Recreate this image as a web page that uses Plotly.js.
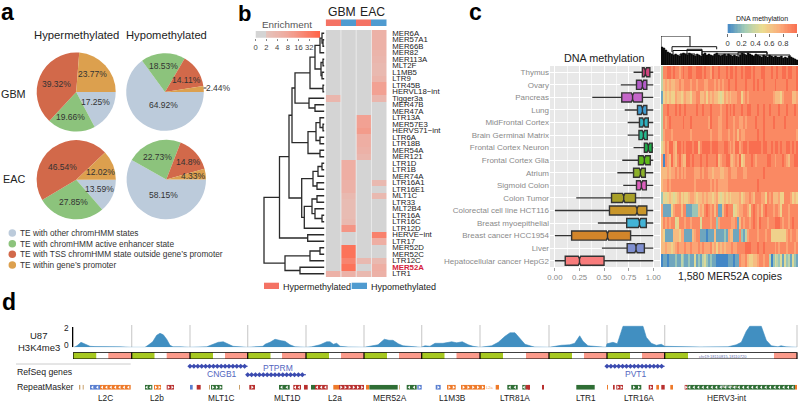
<!DOCTYPE html>
<html><head><meta charset="utf-8">
<script src="https://cdn.plot.ly/plotly-3.0.1.min.js"></script>
<style>html,body{margin:0;padding:0;background:#fff}</style></head>
<body><div id="chart" style="width:798px;height:402px"></div>
<script>
const W=798,H=402,FONT='"Liberation Sans",Arial,sans-serif';
// ---- panel a
const pieStates=['TE with other chromHMM states','TE with chromHMM active enhancer state','TE with TSS chromHMM state outside gene\u2019s promoter','TE within gene\u2019s promoter'];
const gbmHyperPie=[17.25,19.66,39.32,23.77];
const gbmHypoPie=[64.92,18.53,14.11,2.44];
const eacHyperPie=[13.59,27.85,46.54,12.02];
const eacHypoPie=[58.15,22.73,14.8,4.33];
// ---- panel b
const teNames=['MER6A','MER57A1','MER66B','MER82','MER113A','MLT2F','L1MB5','LTR9','LTR45B','HERVL18\u2212int','Tigger3a','MER47B','MER47A','LTR13A','MER57E3','HERVS71\u2212int','LTR6A','LTR18B','MER54A','MER121','LTR1D','LTR1B','MER74A','LTR16A1','LTR16E1','MLT1C','LTR33','MLT2B4','LTR16A','LTR16C','LTR12D','HERVE\u2212int','LTR17','MER52D','MER52C','LTR12C','MER52A','LTR1'];
const gbmHyperEnrich=[0,0,0,0,0,0,0,0,0,0,4,0,0,0,0,0,0,0,0,0,0,0,0,0,0,0,0,0,0,0,0,0,0,0,0,0,0,5];
const gbmHypoEnrich=[0,0,0,0,0,0,0,0,0,0,0,0,0,0,0,0,0,0,0,0,6,6,6,5,5,3.5,3,3,3,3.5,14,0,0,40,40,24,40,5];
const eacHyperEnrich=[0,0,0,0,0,0,0,0,0,0,0,0,0,10,10,12,6,6,5,4,0,0,0,0,0,0,0,0,0,0,0,0,0,0,0,3.5,0,3.5];
const eacHypoEnrich=[5,5,5,4.5,4,3.5,3.5,4.5,10,10,4,0,0,0,0,0,0,0,0,0,0,0,0,3.5,0,3.5,0,0,0,0,0,26,6,0,0,3.5,6,5];
const enrichTicks=['0','2','4','8','16','32'];
// tree: [height, child, child]; a number is a row index
const rowTree=[61,
 [45.5,
  [36,
   [33,
    [30,
     [15,
      [10,
       [5,[3,0,[2,1,2]],3],
       [4,[2,4,5],[3,6,7]]],
      [2,8,9]],
     [16,10,[10,11,12]]],
    [17,[9,[5,13,[2,14,15]],[5,16,17]],[5,18,19]]],
   [23.3,
    [12,[7,[3,20,21],22],[8,23,24]],
    [20.7,[13,[8,25,26],[10,27,[3,28,29]]],30]]],
  [17.3,31,32]],
 [40,
  [15,[5,33,34],35],
  [25,36,37]]];
// ---- panel c, boxes
const tissues=['Thymus','Ovary','Pancreas','Lung','MidFrontal Cortex','Brain Germinal Matrix','Frontal Cortex Neuron','Frontal Cortex Glia','Atrium','Sigmoid Colon','Colon Tumor','Colorectal cell line HCT116','Breast myoepithelial','Breast cancer HCC1954','Liver','Hepatocellular cancer HepG2'];
const boxLow=[.80,.67,.38,.71,.74,.74,.80,.685,.635,.695,.217,0,.437,0,.478,0];
const boxQ1=[.89,.83,.68,.84,.86,.855,.91,.85,.80,.83,.576,.555,.73,.17,.735,.105];
const boxMed=[.92,.89,.79,.89,.905,.90,.95,.91,.87,.88,.70,.835,.86,.535,.825,.25];
const boxQ3=[.966,.935,.89,.935,.95,.94,.99,.97,.92,.93,.82,.935,.93,.77,.91,.50];
const boxHigh=[1,1,1,1,1,1,1,1,1,1,1,1,1,1,1,1];
const boxNotch=[.012,.012,.012,.012,.012,.012,.012,.012,.012,.012,.012,.012,.012,.012,.012,.012];
const boxColors=['#d1477f','#b35cc8','#c566c9','#3f9bd0','#2fb0bf','#27b88e','#1fae4a','#5fb81a','#8cb02a','#dc5fbd','#a8a028','#c9962a','#43b3d6','#d2852a','#7f8fd0','#f87c7c'];
// ---- panel c, methylation rows: one digit (0-9) per copy cluster
const methRows=[
'3889989887 8988998899 9898879889 8889899898 8989998988 8998889889 8899899889',
'3676766778 7788878878 8877888787 8788988898 8889888989 8898888898 8888988889',
'1565655766 5676657788 6675767665 4576767778 8578788888 8888888766 6578888667',
'3889888989 8898888898 8988898888 7889898988 8988998889 8898898888 9888988898',
'3878988888 8988898888 8888798887 7889888788 7787888898 8898888988 8889888888',
'3788878888 8888878888 8888878887 7888788786 8778888889 8898888888 8888888887',
'4687997699 8989998996 8999989998 8899878799 7899899999 9899889899 8988998989',
'7087697689 7669989888 9889888896 7889976787 9568889878 8888998878 8898768899',
'6667677878 7878888777 8788776777 6677887778 8877888888 8898888888 8888888888',
'6778788888 8888888788 8888878787 7777888888 8888888889 8888888888 8888888888',
'2545654567 5655677656 6767665675 4565656666 7567787688 8775878666 7558887565',
'7111157888 6881112226 7689878681 1689888456 7788758987 8689888788 7588878888',
'6878788458 8878878888 4888878827 8888887781 6878878987 9888788899 9878878988',
'6511116665 7711116788 1110111611 1121766111 8213788887 8887885555 5555787887',
'6676656787 7787787778 7877786757 6767778778 8889998889 8898888878 7888788878',
'0110111211 3211211412 1342121100 0000111011 8778655667 8878830243 2414231421'];
const methTicks=['0','0.2','0.4','0.6','0.8','1'];
const colDendroHeights=[18,17,15,13,12,11,10,11,10,9,11,12,11,10,12,11,10,9,11,10,9,11,12,10,11,10,9,11,12,10,9,10,11,9,11,10,9,10,9,8,10,12,11,10,12,11,10,9,11,10,9,8,10,9,8,10,9,8,9,8,8,9,7,8,7,9,8,7,6,5];
// [left, right, join height, left height, right height]
const colDendroLinks=[[661,690,29,5,18.3],[672,716.7,18.3,13,15.7],[673,702,14.5,9,13.3],[702,767,13.3,8,11],[738,767,12.7,8,9],[687,702,15.7,10,10],[716.7,745,11,7,7],[755,790,10,6,5],[680,695,11,7,6],[710,730,9,6,6]];
// ---- panel d
const locusNames=['L2C','L2b','MLT1C','MLT1D','L2a','MER52A','L1M3B','LTR81A','LTR1','LTR16A','HERV3-int'];
const locusEdges=[73,131.7,190,247.7,306,364,421.7,480,549,607,664.7,797];
const locusGreenEnd=[96.5,154.7,213,270.7,329,387,444.7,503,572,630,688];
const locusWhiteEnd=[108.3,166.7,225,282,341,399,456.5,526,584,642,774];
const signalPos=[74,77,81,85,90,95,100,105,110,115,120,131,145,148,152.7,156.7,160,163.3,166.7,170,173,180,190,206.7,213.3,218.3,223.3,228.3,233,247,263,265,270,275,278,281.7,285,290,295,306,311.7,320,326.7,330,333.3,336.7,340,348,364,370,378,384.3,389,393,398.3,403,412,421,425,430,435,443,451.7,456.7,462.3,468.3,473,480,491.7,498.3,505,510,515,520,525,531.7,534.7,549,554.7,561.3,569.7,574.7,579.7,583,588,594.7,606,607,613,617.3,623,643,646.3,651.3,656.3,661.3,664.7,700,715,728,736.3,741.3,746.3,749.7,761.3,766.3,771.3,778,781,786,797];
const signalVal=[0,.15,.5,.3,.1,.07,.07,.1,.07,.07,.05,0,0,.2,.55,1.2,1.4,1.25,.8,.2,.05,.05,0,.05,.3,.5,.55,.35,.1,0,.1,.3,.5,.8,.7,.65,.6,.25,.05,0,.05,.25,.55,.55,.3,.4,.1,.03,0,.1,.25,.8,.7,.7,.35,.15,.05,0,.15,.1,.4,.4,.55,.45,.55,.25,.1,0,.15,.5,1.1,1.45,1.45,.9,.3,.1,.03,0,.1,.2,.25,.4,1.15,.6,.15,.1,0,.35,.5,.35,2.1,2.1,1,.4,.2,.3,.1,.03,.05,.05,.25,.5,1.6,2.1,2.1,.7,.15,.05,.15,.05,0];
const genes=[{name:'CNGB1',from:190,to:247.7,track:0},{name:'PTPRM',from:247.7,to:306,track:1},{name:'PVT1',from:607,to:664.7,track:0}];
// repeat elements: start, end, family class, strand
const rmStart=[79,82.7,90,100,145,154,166.7,190,196.7,209,211,239,249.3,279,293.3,304,311,315,333.3,339,366,369.3,399,406.7,417.3,435.7,447,461,495.7,507.3,522.3,525.7,528,542,576.3,607,613,616.3,631.3,648.7,656.3,661.3,670.3,684.7,687.3,795];
const rmEnd=[80.3,83.7,100,130.7,152.3,161,174,192.7,200.7,210,222.3,240,255,289.7,301,307.7,315,327.7,339,364,369,397.7,399.8,416.7,421.7,440.7,455.7,485,499,517.7,525.7,530,529.7,544,594.7,608,614.7,623,641.3,653,659,664.7,673,687.3,795,797];
const rmClass=['t','t','b','o','g','o','r','b','r','t','g','t','r','g','r','r','g','r','o','r','o','g','t','g','b','b','o','o','o','g','g','r','r','r','g','o','r','r','g','r','o','r','o','r','g','o'];
const rmStrand=[0,0,-1,-1,-1,1,1,0,0,0,1,0,1,-1,-1,0,0,-1,0,1,0,0,0,-1,1,1,1,1,0,-1,-1,0,0,0,0,0,0,1,1,1,0,0,0,1,-1,0];

// ---- helpers
const px=x=>x/W, py=y=>1-y/H;
const data=[], layout={width:W,height:H,margin:{l:0,r:0,t:0,b:0},autosize:false,paper_bgcolor:'#fff',plot_bgcolor:'rgba(0,0,0,0)',showlegend:false,hovermode:false,font:{family:FONT,color:'#222',size:9},annotations:[],shapes:[],boxmode:'overlay'};
let axN=0;
const blank={showgrid:false,zeroline:false,showticklabels:false,ticks:'',showline:false,fixedrange:true};
function axes(x0,x1,y0,y1,xo,yo){axN++;const s=axN===1?'':axN;
 layout['xaxis'+s]=Object.assign({},blank,{domain:[px(x0),px(x1)],anchor:'y'+s},xo);
 layout['yaxis'+s]=Object.assign({},blank,{domain:[py(y1),py(y0)],anchor:'x'+s},yo);
 return {xaxis:'x'+s,yaxis:'y'+s};}
function note(text,x,y,size,o){layout.annotations.push(Object.assign({text,x:px(x),y:py(y),xref:'paper',yref:'paper',showarrow:false,xanchor:'center',yanchor:'middle',borderpad:0,font:{size,family:FONT,color:'#222'}},o||{}));}
function rect(x0,y0,x1,y1,fill){layout.shapes.push({type:'rect',xref:'paper',yref:'paper',x0:px(x0),x1:px(x1),y0:py(y1),y1:py(y0),fillcolor:fill,line:{width:0}});}

// ---- panel a
const pieColors=['#bccbdb','#8cc37c','#d2694a','#dca04e'];
[[gbmHyperPie,76.2,92,39.5],[gbmHypoPie,165,92,38.8],[eacHyperPie,76.2,179.7,39.6],[eacHypoPie,166.3,179.5,39.7]].forEach(p=>{
 data.push({type:'pie',values:p[0],labels:pieStates,sort:false,direction:'clockwise',rotation:90,textinfo:'none',hoverinfo:'skip',
  marker:{colors:pieColors,line:{width:0}},domain:{x:[px(p[1]-p[3]),px(p[1]+p[3])],y:[py(p[2]+p[3]),py(p[2]-p[3])]}});
});
const pieText=[['17.25%',95.7,102.3],['19.66%',70.7,116.7],['39.32%',56.7,84.3],['23.77%',92.7,74],['64.92%',163.3,105.3],['18.53%',163.3,66],['14.11%',186.7,80.3],['13.59%',99,188.7],['27.85%',73.3,202.3],['46.54%',62.3,167.3],['12.02%',100,171.7],['58.15%',163.3,195.3],['22.73%',157.3,157.3],['14.8%',188.3,162.3],['4.33%',193.3,175.7],['2.44%',218.7,87.7]];
pieText.forEach(t=>note(t[0],t[1],t[2],8.5,{font:{size:8.5,family:FONT,color:'#333'}}));
layout.shapes.push({type:'line',xref:'paper',yref:'paper',x0:px(203.5),x1:px(206.5),y0:py(88),y1:py(88),line:{color:'#333',width:1}});
note('Hypermethylated',76,35,11.3);note('Hypomethylated',166,35,11.2);
note('GBM',13.3,94,10.8);note('EAC',13.5,179,10.8);
const legA=axes(0,798,0,402,{range:[0,798]},{range:[402,0]});
data.push(Object.assign({type:'scatter',mode:'markers',x:[12.3,12.3,12.3,12.3],y:[233,243.7,254.3,265],marker:{color:pieColors,size:7.5},hoverinfo:'skip'},legA));
pieStates.forEach((s,i)=>note(s,19,[233,243.7,254.3,265][i],8.3,{xanchor:'left',font:{size:8.3,family:FONT,color:'#333'}}));

// ---- panel b
const enrichZ=e=>e>0?Math.log2(e):0;
const enrichScale=[[0,'#d4d4d4'],[1/6,'#d4d4d4'],[1/6,'#e4c4bd'],[.5,'#f0a89c'],[1,'#ff6347']];
const rows=teNames.map((_,i)=>[gbmHyperEnrich[i],gbmHypoEnrich[i],eacHyperEnrich[i],eacHypoEnrich[i]].map(enrichZ));
const heatB=axes(325.7,386.7,30,277,{range:[-.5,3.5]},{range:[37.5,-.5],side:'right',showticklabels:true,tickmode:'array',tickvals:teNames.map((_,i)=>i),
 ticktext:teNames.map(n=>n==='MER52A'?'<b><span style="color:#d4213d">MER52A</span></b>':n),ticklen:3,tickcolor:'rgba(0,0,0,0)',tickwidth:0,ticks:'outside',tickfont:{size:7.8,color:'#222',family:FONT},automargin:false});
data.push(Object.assign({type:'heatmap',z:rows,colorscale:enrichScale,zmin:0,zmax:6,showscale:false,xgap:0,ygap:0,hoverinfo:'skip'},heatB));
const sepB=[.5,1.5,2.5];
data.push(Object.assign({type:'scatter',mode:'lines',x:[.5,.5,null,1.5,1.5,null,2.5,2.5],y:[-.5,37.5,null,-.5,37.5,null,-.5,37.5],line:{color:'#ececec',width:.9},hoverinfo:'skip'},heatB));
const strip=axes(325.7,386.7,19.3,26,{range:[-.5,3.5]},{range:[-.5,.5]});
data.push(Object.assign({type:'heatmap',z:[[0,1,0,1]],colorscale:[[0,'#f47264'],[1,'#4f9bd0']],zmin:0,zmax:1,showscale:false,xgap:0,hoverinfo:'skip'},strip));
note('GBM',341.7,12.5,12.2);note('EAC',372.3,12.5,12.2);
const enrichRamp=[];for(let i=0;i<=60;i++)enrichRamp.push(i/10);
const barE=axes(255.7,320,31,37.7,{range:[0,6],showticklabels:true,tickmode:'array',tickvals:[0,1,2,3,4,5],ticktext:enrichTicks,ticks:'outside',ticklen:2.5,tickwidth:.7,tickcolor:'#555',tickfont:{size:7.6,color:'#444',family:FONT},automargin:false},{range:[-.5,.5]});
data.push(Object.assign({type:'heatmap',x:enrichRamp,y:[0],z:[enrichRamp],colorscale:enrichScale,zmin:0,zmax:6,showscale:false,hoverinfo:'skip'},barE));
note('Enrichment',287,25,9.9,{font:{size:9.9,family:FONT,color:'#555'}});
// row dendrogram
const dx=[],dy=[];
(function walk(n){if(typeof n==='number')return{h:0.8,y:n};
 const a=walk(n[1]),b=walk(n[2]);dx.push(a.h,n[0],n[0],b.h,null);dy.push(a.y,a.y,b.y,b.y,null);return{h:n[0],y:(a.y+b.y)/2};})(rowTree);
const dendB=axes(263,325,30,277,{range:[62,0]},{range:[37.5,-.5]});
data.push(Object.assign({type:'scatter',mode:'lines',x:dx,y:dy,line:{color:'#2a2a2a',width:1.3},hoverinfo:'skip'},dendB));
rect(264,282.7,279,289,'#f47264');rect(351.7,282.7,367,289,'#4f9bd0');
note('Hypermethylated',281.7,286.5,9,{xanchor:'left'});note('Hypomethylated',369.5,286.5,9,{xanchor:'left'});

// ---- panel c boxes
const boxAx=axes(550,660,66,267,{range:[-.05,1.069],showgrid:true,gridcolor:'#fff',gridwidth:1,tickmode:'array',tickvals:[0,.25,.5,.75,1],ticktext:['0.00','0.25','0.50','0.75','1.00'],showticklabels:true,ticks:'outside',ticklen:2.5,tickwidth:.8,tickcolor:'#888',tickfont:{size:7.8,color:'#888',family:FONT},minor:{tickmode:'array',tickvals:[.125,.375,.625,.875],showgrid:true,gridcolor:'#fff',gridwidth:.6},automargin:false},
 {type:'category',categoryorder:'array',categoryarray:tissues,range:[15.5,-.5],showgrid:true,gridcolor:'#fff',gridwidth:1,showticklabels:true,ticks:'',tickfont:{size:8,color:'#8a8a8a',family:FONT},automargin:false});
layout.shapes.push({type:'rect',xref:'paper',yref:'paper',layer:'below',x0:px(550),x1:px(660),y0:py(267),y1:py(66),fillcolor:'#e8e8e8',line:{width:0}});
tissues.forEach((t,i)=>data.push(Object.assign({type:'box',orientation:'h',y:[t],lowerfence:[boxLow[i]],q1:[boxQ1[i]],median:[boxMed[i]],q3:[boxQ3[i]],upperfence:[boxHigh[i]],notched:true,notchspan:[boxNotch[i]],notchwidth:.3,width:.72,whiskerwidth:0,boxpoints:false,fillcolor:boxColors[i],line:{color:'#333',width:1.4},hoverinfo:'skip'},boxAx)));
note('DNA methylation',604,58,10.8);

// ---- panel c heatmap
const methScale=[[0,'#4387c6'],[.25,'#a5cdb5'],[.5,'#ecdc90'],[.75,'#fbab7a'],[1,'#f96e50']];
const methZ=methRows.map(r=>r.replace(/ /g,'').split('').map(d=>+d/9));
const hm=axes(661,798,66,267,{range:[-.5,69.5]},{range:[15.5,-.5]});
data.push(Object.assign({type:'heatmap',z:methZ,colorscale:methScale,zmin:0,zmax:1,showscale:false,zsmooth:false,hoverinfo:'skip'},hm));
const methRamp=[];for(let i=0;i<=50;i++)methRamp.push(i/50);
const barM=axes(727.7,797,24,33,{range:[0,1],showticklabels:true,tickmode:'array',tickvals:[0,.2,.4,.6,.8,1],ticktext:methTicks,ticks:'outside',ticklen:3,tickwidth:.7,tickcolor:'#333',tickfont:{size:7.6,color:'#333',family:FONT},automargin:false},{range:[-.5,.5]});
data.push(Object.assign({type:'heatmap',x:methRamp,y:[0],z:[methRamp],colorscale:methScale,zmin:0,zmax:1,showscale:false,hoverinfo:'skip'},barM));
note('DNA methylation',762,19,7);
note('1,580 MER52A copies',730,276,10.5);
const dc=axes(661,798,36,65,{range:[-.5,69.5]},{range:[0,29]});
data.push(Object.assign({type:'bar',y:colDendroHeights,marker:{color:'#0a0a0a',line:{color:'#0a0a0a',width:.5}},width:1,hoverinfo:'skip'},dc));
const dcL=axes(661,798,36,65,{range:[661,798]},{range:[0,29]});
const lx=[],ly=[];colDendroLinks.forEach(l=>{lx.push(l[0],l[0],l[1],l[1],null);ly.push(l[3],l[2],l[2],l[4],null);});
data.push(Object.assign({type:'scatter',mode:'lines',x:lx,y:ly,line:{color:'#111',width:1},hoverinfo:'skip',cliponaxis:false},dcL));

// ---- panel d
const sig=axes(73,798,325,347.3,{range:[73,798]},{range:[0,2.23]});
const sepX=[],sepY=[];locusEdges.slice(1).forEach(e=>{sepX.push(e,e,null);sepY.push(0,2.23,null);});
data.push(Object.assign({type:'scatter',mode:'lines',x:sepX,y:sepY,line:{color:'#cfcfcf',width:1.2},hoverinfo:'skip'},sig));
data.push(Object.assign({type:'scatter',mode:'lines',x:signalPos,y:signalVal,fill:'tozeroy',fillcolor:'#418fc1',line:{color:'#418fc1',width:.6},hoverinfo:'skip'},sig));
const tick=axes(70,73.5,327,347.3,{range:[0,1]},{range:[0,2]});
data.push(Object.assign({type:'scatter',mode:'lines',x:[.8,.8],y:[0,2],line:{color:'#000',width:1.6},hoverinfo:'skip',cliponaxis:false},tick));
note('2',66,328,8.3);note('0',66,345,8.3);
note('U87',38.5,335,9.5);note('H3K4me3',38.5,347,9.5);
const seg=axes(73,798,352.3,359,{range:[73,798]},{range:[-.5,.5]});
const ys=locusGreenEnd.map(()=>0);
const bar=(base,to,c)=>data.push(Object.assign({type:'bar',orientation:'h',y:ys,base:base,x:to.map((v,i)=>v-base[i]),width:1,marker:{color:c,line:{width:0}},hoverinfo:'skip'},seg));
layout.barmode='overlay';
bar(locusEdges.slice(0,-1),locusGreenEnd,'#a6c81f');
bar(locusGreenEnd,locusWhiteEnd,'#ffffff');
bar(locusWhiteEnd,locusEdges.slice(1),'#fb9a8a');
const bX=[73,797,797,73,73,null],bY=[-.5,-.5,.5,.5,-.5,null];
locusEdges.slice(1,-1).forEach(e=>{bX.push(e,e,null);bY.push(-.5,.5,null);});
data.push(Object.assign({type:'scatter',mode:'lines',x:bX,y:bY,line:{color:'#000',width:1.2},hoverinfo:'skip',cliponaxis:false},seg));
note('chr19:18110815-18110720',723,356,4,{font:{size:4,family:FONT,color:'#5a6aa8'}});
layout.shapes.push({type:'line',xref:'paper',yref:'paper',x0:px(16),x1:px(130.7),y0:py(364),y1:py(364),line:{color:'#cccccc',width:1}});
note('RefSeq genes',16,371.7,8.7,{xanchor:'left'});note('RepeatMasker',16,386.7,8.7,{xanchor:'left'});
// genes
const gAx=axes(73,798,362,379,{range:[73,798]},{range:[1.5,-.5]});
genes.forEach(g=>{
 data.push(Object.assign({type:'scatter',mode:'lines',x:[g.from,g.to],y:[g.track,g.track],line:{color:'#3b4bb0',width:1},hoverinfo:'skip'},gAx));
 const mx=[];for(let v=g.from;v<=g.to;v+=3.9)mx.push(v);
 data.push(Object.assign({type:'scatter',mode:'markers',x:mx,y:mx.map(()=>g.track),marker:{symbol:'diamond',size:4,color:'#3b4bb0'},hoverinfo:'skip'},gAx));
});
note('CNGB1',222,374,8.5,{font:{size:8.5,family:FONT,color:'#5366c0'}});
note('PTPRM',278,367.5,8.5,{font:{size:8.5,family:FONT,color:'#5366c0'}});
note('PVT1',636,374,8.5,{font:{size:8.5,family:FONT,color:'#5366c0'}});
// repeats
const rmColor={g:'#2f6e35',r:'#b8302f',o:'#ee7a2a',b:'#5a7fd0',t:'#c9a06a'};
const rmAx=axes(73,798,384.7,389.8,{range:[73,798]},{range:[-.5,.5]});
data.push(Object.assign({type:'bar',orientation:'h',y:rmStart.map(()=>0),base:rmStart,x:rmEnd.map((v,i)=>v-rmStart[i]),width:1,marker:{color:rmClass.map(c=>rmColor[c]),line:{width:0}},hoverinfo:'skip'},rmAx));
const aL=[],aR=[];rmStart.forEach((s,i)=>{if(!rmStrand[i])return;const w=rmEnd[i]-s;const n=Math.max(1,Math.round(w/4.4));for(let k=0;k<n;k++)(rmStrand[i]<0?aL:aR).push(s+(k+.5)*w/n);});
data.push(Object.assign({type:'scatter',mode:'markers',x:aL,y:aL.map(()=>0),marker:{symbol:'triangle-left',size:3,color:'#fff'},hoverinfo:'skip'},rmAx));
data.push(Object.assign({type:'scatter',mode:'markers',x:aR,y:aR.map(()=>0),marker:{symbol:'triangle-right',size:3,color:'#fff'},hoverinfo:'skip'},rmAx));
note('HERVH-int',728,387.3,3.5,{font:{size:3.5,family:FONT,color:'#ddd'}});
note('L2a',489.7,387.3,4,{font:{size:4,family:FONT,color:'#ee9a5a'}});
const locusLabelX=[105.7,156.7,221,287.7,335,390,452,515,585.7,638.7,727];
locusNames.forEach((n,i)=>note(n,locusLabelX[i],398,8.3));
// letters
[['a',7,12],['c',475,12],['d',9,302]].forEach(l=>note(l[0],l[1],l[2],23,{font:{size:23,family:FONT,color:'#000',weight:700}}));
note('b',244,0,22,{yanchor:'top',font:{size:22,family:FONT,color:'#000',weight:700}});

Plotly.newPlot('chart',data,layout,{staticPlot:true,displayModeBar:false});
</script></body></html>
